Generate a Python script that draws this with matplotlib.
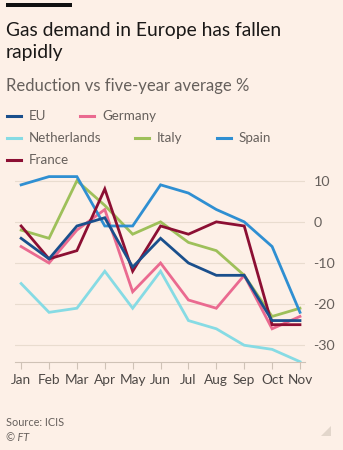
import matplotlib
matplotlib.use("Agg")
import matplotlib.pyplot as plt
from matplotlib.lines import Line2D
from matplotlib.patches import Polygon, Rectangle

plt.rcParams["font.family"] = ["Lato", "DejaVu Sans"]

months = ["Jan", "Feb", "Mar", "Apr", "May", "Jun", "Jul", "Aug", "Sep", "Oct", "Nov"]
eu = [-4, -9, -1, 1, -11, -4, -10, -13, -13, -24, -24]
germany = [-6, -10, -2, 3, -17, -10, -19, -21, -13, -26, -23]
netherlands = [-15, -22, -21, -12, -21, -12, -24, -26, -30, -31, -34]
italy = [-2, -4, 10, 4, -3, 0, -5, -7, -13, -23, -21]
spain = [9, 11, 11, -1, -1, 9, 7, 3, 0, -6, -22]
france = [-1, -9, -7, 8, -12, -1, -3, 0, -1, -25, -25]
yticks = [10, 0, -10, -20, -30]

series = [
    ("Netherlands", netherlands, "#86dbe4"),
    ("Germany", germany, "#ea6a90"),
    ("Italy", italy, "#9ec05a"),
    ("Spain", spain, "#2f8fd2"),
    ("France", france, "#8c0f33"),
    ("EU", eu, "#1a4f8c"),
]

BG = "#fdf0e7"
fig = plt.figure(figsize=(3.43, 4.5), dpi=100, facecolor=BG)
ax = fig.add_axes([15/343, 1-361.7/450, 290/343, (361.7-172.5)/450])
ax.set_facecolor(BG)

x = list(range(len(months)))
for name, vals, col in series:
    ax.plot(x, vals, color=col, lw=2.0, solid_joinstyle="miter", zorder=3)

ax.set_xlim(-0.22, 10.18)
ax.set_ylim(-34, 12)
ax.set_yticks(yticks)
ax.set_yticklabels([str(t) for t in yticks])
ax.yaxis.tick_right()
ax.tick_params(axis="y", length=0, pad=6, labelsize=10.3, labelcolor="#66605c")
ax.grid(axis="y", color="#e9dccf", lw=0.8, zorder=0)
ax.set_xticks(x)
ax.set_xticklabels(months)
ax.tick_params(axis="x", length=5, width=0.8, color="#cfc2b6", pad=4,
               labelsize=9.8, labelcolor="#4d4845")
for s in ["top", "right", "left"]:
    ax.spines[s].set_visible(False)
ax.spines["bottom"].set_color("#cfc2b6")
ax.spines["bottom"].set_linewidth(0.8)

fig.patches.append(Rectangle((6/343, 1-7.3/450), 66/343, 4/450, transform=fig.transFigure,
                             facecolor="#111111", edgecolor="none"))
fig.text(6/343, 1-36/450, "Gas demand in Europe has fallen", fontsize=13.9, color="#1a1817")
fig.text(6/343, 1-58/450, "rapidly", fontsize=13.9, color="#1a1817")
fig.text(6/343, 1-91/450, "Reduction vs five-year average %", fontsize=12.0, color="#66605c")

leg = [("EU", "#1a4f8c", 7, 116), ("Germany", "#ea6a90", 80, 116),
       ("Netherlands", "#86dbe4", 7, 138), ("Italy", "#9ec05a", 135, 138),
       ("Spain", "#2f8fd2", 217, 138), ("France", "#8c0f33", 7, 160)]
for name, col, lx, ly in leg:
    fig.lines.append(Line2D([lx/343, (lx+14)/343], [1-ly/450, 1-ly/450],
                            transform=fig.transFigure, color=col, lw=2.2))
    fig.text((lx+22)/343, 1-ly/450, name, fontsize=9.6, color="#66605c", va="center")

fig.text(6/343, 1-426/450, "Source: ICIS", fontsize=7.8, color="#66605c")
fig.text(6/343, 1-441/450, "© FT", fontsize=7.8, color="#66605c", style="italic")
fig.patches.append(Polygon([(321/343, 1-436/450), (331/343, 1-436/450), (331/343, 1-426/450)],
                           closed=True, transform=fig.transFigure, facecolor="#e2d6cb",
                           edgecolor="none"))

fig.savefig("out.png", dpi=100, facecolor=BG)
